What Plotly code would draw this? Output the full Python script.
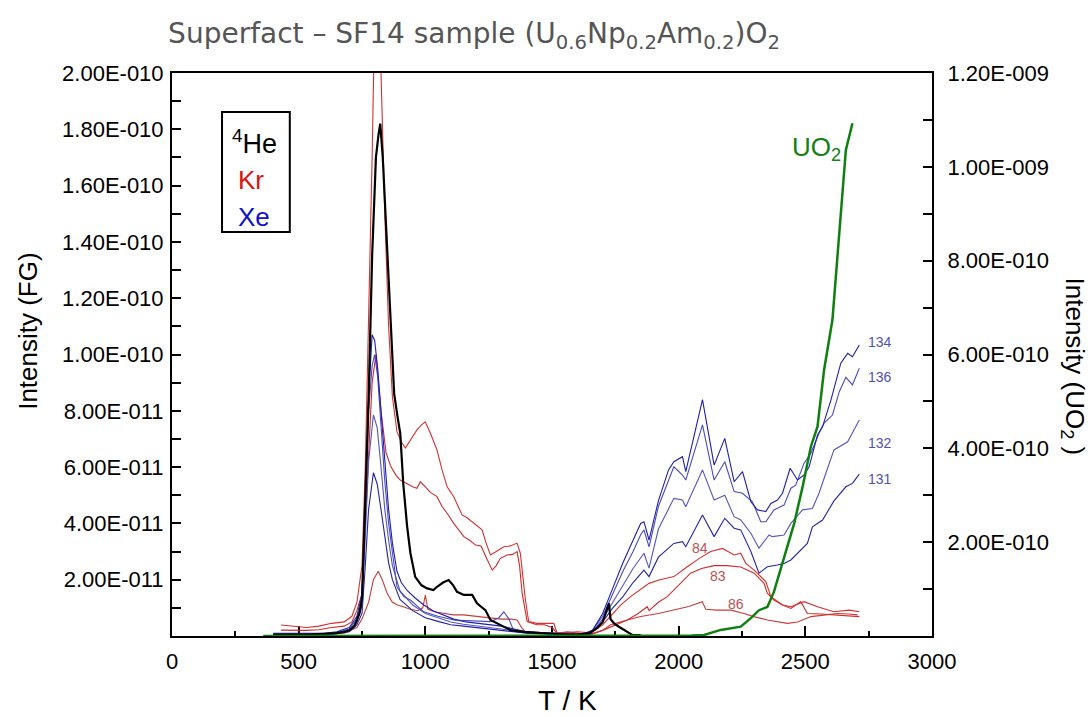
import numpy as np
import plotly.graph_objects as go

# ---------------- data (FG intensities in units of 1e-11, UO2 in units of 1e-10) ----------------
T_he = [400, 450, 500, 550, 600, 650, 680, 700, 720, 740, 750, 763, 776, 790, 805, 815, 822, 832, 845, 860,
        870, 877, 890, 901, 913, 928, 941, 960, 985, 1007, 1032, 1046, 1070, 1092, 1110, 1125, 1152, 1185,
        1204, 1237, 1257, 1296, 1336, 1387, 1450, 1500, 1550, 1600, 1650, 1680, 1700, 1712, 1725, 1731,
        1745, 1764, 1790, 1817, 1850]
he = [0.05, 0.05, 0.05, 0.06, 0.08, 0.1, 0.15, 0.2, 0.35, 0.8, 1.3, 4.8, 8.4, 13.5, 17.0, 17.8, 18.2, 17.0, 14.5, 12.0,
      10.0, 8.6, 7.8, 7.2, 5.4, 3.9, 2.95, 2.1, 1.8, 1.69, 1.63, 1.75, 1.9, 1.99, 1.8, 1.57, 1.46, 1.46,
      1.16, 0.92, 0.57, 0.39, 0.21, 0.15, 0.1, 0.08, 0.05, 0.05, 0.1, 0.3, 0.5, 0.8, 1.16, 0.6,
      0.45, 0.33, 0.2, 0.04, 0.03]

T_kr84 = [430, 480, 530, 580, 630, 680, 710, 730, 750, 763, 776, 790, 800, 812, 825, 840, 855, 870, 888, 905,
          921, 945, 967, 985, 1000, 1020, 1046, 1066, 1086, 1112, 1130, 1145, 1165, 1185, 1205, 1224, 1240,
          1257, 1280, 1310, 1335, 1362, 1375, 1385, 1395, 1408, 1440, 1468, 1507, 1520, 1560, 1600, 1640,
          1670, 1700, 1740, 1771, 1810, 1850, 1883, 1922, 1981, 2034, 2080, 2126, 2173, 2219, 2245, 2265,
          2298, 2344, 2364, 2410, 2443, 2495, 2548, 2613, 2673, 2713]
kr84 = [0.39, 0.35, 0.3, 0.35, 0.45, 0.5, 0.7, 1.2, 2.5, 6.0, 11.0, 17.0, 22.0, 23.0, 20.0, 15.0, 11.0, 8.5, 7.26, 6.9,
        6.68, 7.0, 7.32, 7.5, 7.61, 7.2, 6.61, 5.9, 5.3, 4.95, 4.6, 4.3, 4.2, 4.06, 3.9, 3.77, 3.3,
        2.88, 3.0, 3.17, 3.2, 3.3, 2.94, 2.0, 1.28, 0.51, 0.45, 0.45, 0.45, 0.1, 0.12, 0.15, 0.12,
        0.2, 0.4, 0.8, 1.1, 1.4, 1.65, 1.87, 1.99, 2.11, 2.46, 2.75, 3.0, 3.11, 2.88, 2.94, 2.58,
        2.34, 1.93, 1.4, 1.1, 1.04, 1.22, 1.04, 0.86, 0.92, 0.86]

T_kr83 = [430, 480, 530, 580, 630, 680, 710, 730, 750, 763, 776, 790, 805, 825, 845, 865, 885, 901, 930, 950,
          967, 980, 1000, 1020, 1046, 1066, 1086, 1112, 1152, 1175, 1198, 1220, 1240, 1264, 1280, 1296, 1323,
          1345, 1362, 1372, 1382, 1402, 1440, 1470, 1500, 1520, 1560, 1600, 1650, 1700, 1740, 1797, 1840,
          1876, 1883, 1920, 1955, 2000, 2047, 2090, 2140, 2190, 2245, 2298, 2337, 2350, 2376, 2410, 2443,
          2482, 2508, 2560, 2613, 2660, 2713]
kr83 = [0.21, 0.2, 0.2, 0.22, 0.3, 0.35, 0.5, 0.9, 1.5, 4.0, 6.5, 9.0, 10.0, 8.0, 6.5, 6.0, 5.7, 5.54, 5.4, 5.3,
        5.25, 5.48, 5.3, 5.1, 4.95, 4.6, 4.36, 4.0, 3.53, 3.4, 3.23, 3.2, 2.8, 2.34, 2.5, 2.76, 2.88,
        2.9, 3.0, 2.5, 1.52, 0.51, 0.4, 0.4, 0.3, 0.1, 0.15, 0.1, 0.05, 0.2, 0.35, 0.57, 0.8,
        1.04, 0.9, 1.2, 1.4, 1.8, 2.23, 2.4, 2.5, 2.5, 2.45, 2.23, 1.87, 1.52, 1.28, 1.1, 0.98,
        1.22, 0.8, 0.78, 0.75, 0.72, 0.69]

T_kr86 = [430, 500, 600, 680, 730, 750, 776, 795, 814, 830, 850, 870, 890, 913, 940, 970, 990, 1000, 1010, 1040,
          1080, 1110, 1150, 1200, 1250, 1300, 1340, 1362, 1380, 1400, 1450, 1500, 1550, 1600, 1650, 1700,
          1731, 1790, 1850, 1920, 1981, 2040, 2093, 2107, 2150, 2206, 2258, 2300, 2350, 2429, 2470, 2522,
          2580, 2627, 2670, 2706]
kr86 = [0.05, 0.05, 0.06, 0.1, 0.3, 0.6, 1.2, 2.0, 2.3, 2.0, 1.5, 1.2, 1.1, 1.04, 0.95, 0.9, 1.0, 1.45, 0.95, 0.85,
        0.8, 0.75, 0.75, 0.7, 0.65, 0.6, 0.6, 0.57, 0.3, 0.1, 0.08, 0.1, 0.12, 0.08, 0.05, 0.2,
        0.4, 0.55, 0.69, 0.8, 0.92, 1.05, 1.22, 0.95, 0.92, 0.92, 0.8, 0.68, 0.57, 0.45, 0.5, 0.69,
        0.75, 0.8, 0.78, 0.75]

T_xe134 = [400, 500, 600, 650, 700, 730, 750, 763, 776, 790, 800, 812, 825, 840, 855, 870, 888, 905, 930, 960,
           994, 1030, 1070, 1112, 1160, 1210, 1260, 1300, 1350, 1400, 1450, 1500, 1550, 1620, 1660, 1700,
           1740, 1780, 1820, 1850, 1863, 1883, 1920, 1960, 1981, 2015, 2028, 2094, 2140, 2182, 2219, 2252,
           2285, 2311, 2344, 2364, 2390, 2410, 2440, 2469, 2495, 2515, 2548, 2568, 2601, 2640, 2667, 2686, 2713]
xe134 = [0.1, 0.1, 0.1, 0.15, 0.3, 0.7, 1.5, 5.0, 8.5, 10.7, 10.5, 9.5, 8.0, 6.0, 4.5, 3.3, 2.3, 1.9, 1.6, 1.35,
         1.1, 0.9, 0.75, 0.6, 0.5, 0.45, 0.4, 0.35, 0.25, 0.15, 0.12, 0.1, 0.08, 0.05, 0.2, 0.8,
         1.7, 2.6, 3.4, 4.0, 4.06, 3.41, 4.8, 5.9, 6.19, 6.37, 5.84, 8.4, 6.07, 7.02, 5.48, 5.84,
         4.77, 4.48, 4.42, 4.71, 4.83, 5.07, 5.96, 5.54, 5.72, 6.01, 7.14, 7.44, 8.38, 9.69, 10.04, 9.92, 10.34]

T_xe136 = [400, 500, 600, 650, 700, 730, 750, 763, 776, 790, 800, 812, 825, 840, 855, 870, 888, 915, 941, 994,
           1050, 1112, 1180, 1257, 1290, 1310, 1330, 1348, 1400, 1450, 1500, 1550, 1620, 1660, 1700, 1740,
           1780, 1820, 1850, 1863, 1883, 1920, 1981, 2015, 2028, 2094, 2140, 2182, 2219, 2252, 2291, 2324,
           2344, 2376, 2416, 2443, 2462, 2495, 2522, 2554, 2574, 2607, 2634, 2660, 2686, 2713]
xe136 = [0.08, 0.08, 0.08, 0.12, 0.25, 0.6, 1.3, 4.5, 8.0, 9.6, 10.0, 9.2, 7.5, 5.5, 4.0, 2.9, 1.75, 1.4, 1.28, 0.86,
         0.7, 0.57, 0.53, 0.51, 0.65, 0.86, 0.6, 0.21, 0.15, 0.12, 0.1, 0.08, 0.05, 0.2, 0.7, 1.5,
         2.3, 3.0, 3.6, 3.77, 3.17, 4.6, 6.01, 5.72, 5.54, 7.5, 5.54, 6.19, 5.13, 5.07, 4.77, 4.06,
         4.06, 4.48, 4.65, 5.25, 5.36, 6.14, 6.49, 7.2, 7.56, 7.85, 8.68, 9.19, 8.92, 9.51]

T_xe132 = [400, 500, 600, 650, 700, 730, 750, 763, 776, 795, 810, 825, 840, 855, 870, 900, 950, 1000, 1050, 1100,
           1150, 1200, 1250, 1300, 1350, 1400, 1450, 1500, 1550, 1620, 1660, 1700, 1740, 1780, 1820, 1863,
           1883, 1920, 1981, 2015, 2028, 2094, 2140, 2182, 2219, 2245, 2285, 2317, 2357, 2370, 2416, 2443,
           2489, 2528, 2554, 2581, 2613, 2667, 2713]
xe132 = [0.06, 0.06, 0.06, 0.1, 0.2, 0.5, 1.1, 3.5, 6.2, 7.85, 7.4, 6.0, 4.5, 3.4, 2.5, 1.6, 1.1, 0.8, 0.65, 0.5,
         0.42, 0.35, 0.3, 0.25, 0.18, 0.12, 0.1, 0.08, 0.06, 0.05, 0.15, 0.6, 1.2, 1.8, 2.4, 2.94,
         2.41, 3.8, 4.89, 4.83, 4.59, 5.9, 4.83, 5.0, 4.24, 4.12, 3.65, 3.12, 3.59, 3.53, 3.59, 4.0,
         4.48, 4.53, 5.07, 5.78, 6.61, 6.9, 7.67]

T_xe131 = [400, 500, 600, 650, 700, 730, 750, 763, 776, 795, 810, 825, 840, 855, 870, 900, 950, 1000, 1050, 1100,
           1150, 1200, 1250, 1300, 1350, 1400, 1450, 1500, 1550, 1620, 1660, 1700, 1740, 1780, 1820, 1863,
           1883, 1920, 1981, 2015, 2028, 2094, 2140, 2182, 2219, 2245, 2285, 2317, 2350, 2390, 2416, 2443,
           2508, 2528, 2568, 2613, 2660, 2686, 2713]
xe131 = [0.05, 0.05, 0.05, 0.08, 0.15, 0.4, 0.8, 2.5, 4.5, 5.8, 5.4, 4.5, 3.5, 2.6, 2.0, 1.3, 0.9, 0.65, 0.52, 0.4,
         0.35, 0.3, 0.25, 0.2, 0.15, 0.1, 0.08, 0.06, 0.05, 0.05, 0.15, 0.5, 1.0, 1.4, 1.9, 2.34,
         2.11, 2.8, 3.29, 3.35, 3.17, 4.3, 3.53, 4.18, 3.83, 3.77, 3.0, 2.23, 2.46, 2.52, 2.58, 2.7,
         3.29, 3.88, 4.12, 4.8, 5.3, 5.42, 5.75]

T_uo2 = [360, 800, 1200, 1600, 1800, 2008, 2050, 2100, 2166, 2245, 2285, 2317, 2350, 2376, 2416, 2456,
         2490, 2522, 2548, 2574, 2607, 2627, 2645, 2660, 2686]
uo2 = [0, 0, 0, 0, 0, 0, 0.01, 0.02, 0.13, 0.2, 0.38, 0.55, 0.62, 0.94, 1.69, 2.4,
       3.2, 4.04, 4.46, 5.67, 6.74, 8.05, 9.3, 10.36, 10.93]

left_ticks = [2e-11, 4e-11, 6e-11, 8e-11, 1e-10, 1.2e-10, 1.4e-10, 1.6e-10, 1.8e-10, 2e-10]
right_ticks = [2e-10, 4e-10, 6e-10, 8e-10, 1e-9, 1.2e-9]
x_ticks = [0, 500, 1000, 1500, 2000, 2500, 3000]


def sci(v):
    mant, ex = f"{v:.2E}".split("E")
    return f"{mant}E{int(ex):+04d}"


FG = 1e-11
UO = 1e-10
FONT = "Liberation Sans, Arial, sans-serif"

fig = go.Figure()

kr_series = [(T_kr86, kr86, "#c83c3c"), (T_kr83, kr83, "#cf2b2b"), (T_kr84, kr84, "#d83030")]
for t, v, c in kr_series:
    fig.add_trace(go.Scatter(x=t, y=np.array(v) * FG, mode="lines",
                             line=dict(color=c, width=1.1), showlegend=False))

xe_series = [(T_xe131, xe131, "#2323a8"), (T_xe132, xe132, "#5555c0"),
             (T_xe136, xe136, "#4a4ac0"), (T_xe134, xe134, "#1e1eb0")]
for t, v, c in xe_series:
    fig.add_trace(go.Scatter(x=t, y=np.array(v) * FG, mode="lines",
                             line=dict(color=c, width=1.1), showlegend=False))

fig.add_trace(go.Scatter(x=T_he, y=np.array(he) * FG, mode="lines",
                         line=dict(color="black", width=2.2), showlegend=False))

fig.add_trace(go.Scatter(x=T_uo2, y=np.array(uo2) * UO, mode="lines", yaxis="y2",
                         line=dict(color="#0f800f", width=2.5), showlegend=False))

axis_common = dict(showgrid=False, zeroline=False, showline=True, linecolor="black", linewidth=2,
                   ticks="inside", tickcolor="black", tickfont=dict(family=FONT, size=22, color="black"))

fig.update_layout(
    width=1091, height=717,
    margin=dict(l=172, r=159, t=73, b=81),
    paper_bgcolor="white", plot_bgcolor="white",
    title=dict(text="Superfact – SF14 sample (U<sub>0.6</sub>Np<sub>0.2</sub>Am<sub>0.2</sub>)O<sub>2</sub>",
               x=0.4345, y=0.954, xanchor="center", yanchor="middle",
               font=dict(family="DejaVu Sans, Verdana, sans-serif", size=28, color="#555555")),
    xaxis=dict(range=[0, 3000], tickvals=x_ticks, ticklen=10, tickwidth=1.5, mirror=True,
               minor=dict(ticks="inside", dtick=250, ticklen=5, tickcolor="black"),
               ticklabelstandoff=5, layer="below traces", **axis_common),
    yaxis=dict(range=[0, 2e-10], tickvals=left_ticks, ticktext=[sci(v) for v in left_ticks],
               ticklen=9, tickwidth=1.5, minor=dict(ticks="inside", dtick=1e-11, ticklen=9, tickcolor="black"),
               ticklabelstandoff=2, **axis_common),
    yaxis2=dict(range=[0, 1.2e-9], overlaying="y", side="right", tickvals=right_ticks,
                ticktext=[sci(v) for v in right_ticks], ticklen=9, tickwidth=1.5,
                minor=dict(ticks="inside", dtick=1e-10, ticklen=9, tickcolor="black"),
                ticklabelstandoff=9, **axis_common),
)

ann = []
# axis titles
ann.append(dict(text="T / K", x=0.521, y=-0.1137, xref="paper", yref="paper", showarrow=False,
                font=dict(family=FONT, size=28, color="black"), xanchor="center", yanchor="middle"))
ann.append(dict(text="Intensity (FG)", x=-0.1895, y=0.542, xref="paper", yref="paper", showarrow=False,
                textangle=-90, font=dict(family=FONT, size=26, color="black"), xanchor="center", yanchor="middle"))
ann.append(dict(text="Intensity (UO<sub>2</sub> )", x=1.186, y=0.478, xref="paper", yref="paper", showarrow=False,
                textangle=90, font=dict(family=FONT, size=26, color="black"), xanchor="center", yanchor="middle"))
# legend box entries
ann.append(dict(text="<sup>4</sup>He", x=0.0763, y=0.877, xref="paper", yref="paper", showarrow=False,
                font=dict(family=FONT, size=27, color="black"), xanchor="left", yanchor="middle"))
ann.append(dict(text="Kr", x=0.0842, y=0.81, xref="paper", yref="paper", showarrow=False,
                font=dict(family=FONT, size=26, color="#e01010"), xanchor="left", yanchor="middle"))
ann.append(dict(text="Xe", x=0.0842, y=0.744, xref="paper", yref="paper", showarrow=False,
                font=dict(family=FONT, size=26, color="#1010d0"), xanchor="left", yanchor="middle"))
# UO2 label
ann.append(dict(text="UO<sub>2</sub>", x=0.848, y=0.866, xref="paper", yref="paper", showarrow=False,
                font=dict(family=FONT, size=26, color="#108010"), xanchor="center", yanchor="middle"))
# isotope labels
for txt, px, py in [("134", 0.932, 0.522), ("136", 0.932, 0.46), ("132", 0.932, 0.343), ("131", 0.932, 0.279)]:
    ann.append(dict(text=txt, x=px, y=py, xref="paper", yref="paper", showarrow=False,
                    font=dict(family=FONT, size=14, color="#5050b8"), xanchor="center", yanchor="middle"))
for txt, px, py in [("84", 0.695, 0.156), ("83", 0.718, 0.107), ("86", 0.742, 0.057)]:
    ann.append(dict(text=txt, x=px, y=py, xref="paper", yref="paper", showarrow=False,
                    font=dict(family=FONT, size=14, color="#c05050"), xanchor="center", yanchor="middle"))
fig.update_layout(annotations=ann)

fig.add_shape(type="rect", xref="paper", yref="paper", x0=0.0658, x1=0.155, y0=0.7176, y1=0.9307,
              line=dict(color="black", width=2), fillcolor="rgba(0,0,0,0)")

fig.write_html("out.html")
